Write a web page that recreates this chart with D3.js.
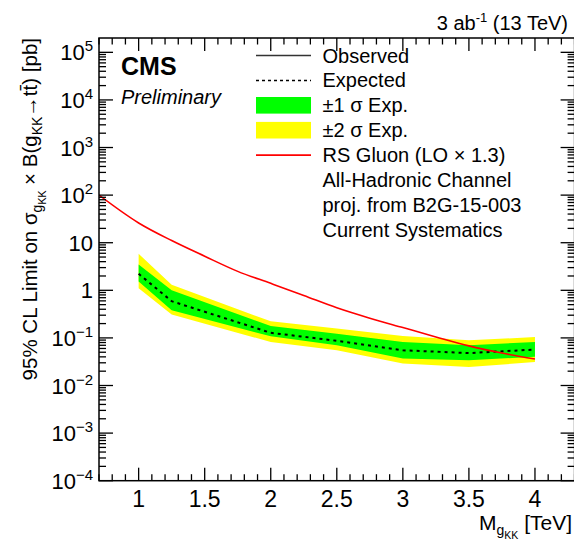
<!DOCTYPE html>
<html>
<head>
<meta charset="utf-8">
<script src="https://cdn.jsdelivr.net/npm/d3@7"></script>
<style>
  html, body { margin: 0; padding: 0; background: #fff; }
  svg { display: block; font-family: "Liberation Sans", Arial, Helvetica, sans-serif; }
</style>
</head>
<body>
<svg id="canvas" width="574" height="546"></svg>
<script>
// --- Data ---
const massPoints = [1.0, 1.25, 2.0, 2.5, 3.0, 3.5, 4.0];          // TeV
const expected   = [2.23, 0.59, 0.128, 0.087, 0.055, 0.048, 0.057]; // pb
const band1Up    = [3.49, 1.0, 0.178, 0.123, 0.082, 0.070, 0.082];
const band1Down  = [1.54, 0.38, 0.108, 0.070, 0.037, 0.034, 0.040];
const band2Up    = [5.85, 1.31, 0.223, 0.157, 0.110, 0.089, 0.104];
const band2Down  = [1.11, 0.31, 0.082, 0.055, 0.029, 0.0245, 0.031];

const gluonMass = [0.7, 1.0, 1.25, 1.5, 1.75, 2.0, 2.25, 2.5, 2.75, 3.0, 3.25, 3.5, 3.75, 4.0];
const gluonXsec = [100, 26, 11.1, 5.2, 2.5, 1.4, 0.78, 0.43, 0.26, 0.165, 0.105, 0.068, 0.048, 0.036];

const xMajorTicks = [1, 1.5, 2, 2.5, 3, 3.5, 4];
const xTickLabels = ["1", "1.5", "2", "2.5", "3", "3.5", "4"];
const yDecades = [-4, -3, -2, -1, 0, 1, 2, 3, 4, 5];

const legendEntries = [
  { type: "line", color: "#333", label: "Observed" },
  { type: "dash", color: "#000", label: "Expected" },
  { type: "box", color: "#00ff00", label: "\u00b11 \u03c3 Exp." },
  { type: "box", color: "#ffff00", label: "\u00b12 \u03c3 Exp." },
  { type: "line", color: "#ff0000", label: "RS Gluon (LO \u00d7 1.3)" },
  { type: "none", label: "All-Hadronic Channel" },
  { type: "none", label: "proj. from B2G-15-003" },
  { type: "none", label: "Current Systematics" }
];

// --- Frame and scales ---
const svg = d3.select("#canvas");
// right edge of the frame sits just past the picture, as in the reference
const frame = { left: 99, right: 574.6, top: 38, bottom: 480.7 };

const x = d3.scaleLinear().domain([0.7, 4.3]).range([frame.left, frame.right]);
const y = d3.scaleLog().domain([1e-4, 2e5]).range([frame.bottom, frame.top]);

svg.append("clipPath").attr("id", "plotClip")
  .append("rect")
  .attr("x", frame.left).attr("y", frame.top)
  .attr("width", frame.right - frame.left).attr("height", frame.bottom - frame.top);

const plot = svg.append("g").attr("clip-path", "url(#plotClip)");

// Bands
const bandArea = (up, down) => d3.area()
  .x((d, i) => x(massPoints[i]))
  .y0((d, i) => y(down[i]))
  .y1((d, i) => y(up[i]));

plot.append("path").datum(massPoints)
  .attr("d", bandArea(band2Up, band2Down))
  .attr("fill", "#ffff00");
plot.append("path").datum(massPoints)
  .attr("d", bandArea(band1Up, band1Down))
  .attr("fill", "#00ff00");

// Expected limit
plot.append("path").datum(massPoints)
  .attr("d", d3.line().x(d => x(d)).y((d, i) => y(expected[i])))
  .attr("fill", "none")
  .attr("stroke", "#000")
  .attr("stroke-width", 2)
  .attr("stroke-dasharray", "3,4");

// RS gluon theory curve
plot.append("path").datum(gluonMass)
  .attr("d", d3.line().curve(d3.curveMonotoneX).x(d => x(d)).y((d, i) => y(gluonXsec[i])))
  .attr("fill", "none")
  .attr("stroke", "#ff0000")
  .attr("stroke-width", 1.6);

// --- Axes (ROOT style, ticks inward on all four sides) ---
const xMinor = d3.range(7, 44).map(v => v / 10).filter(v => !xMajorTicks.some(m => Math.abs(m - v) < 1e-6));
const yMinor = [];
yDecades.forEach(e => { for (let k = 2; k <= 9; k++) { const v = k * Math.pow(10, e); if (v < 2e5) yMinor.push(v); } });
const yMajor = yDecades.map(e => Math.pow(10, e));

const axisColor = "#000";
const axes = svg.append("g").attr("stroke", axisColor).attr("stroke-width", 1.3);

function xTicks(yPos, dir) {
  axes.selectAll(null).data(xMajorTicks).enter().append("line")
    .attr("x1", d => x(d)).attr("x2", d => x(d))
    .attr("y1", yPos).attr("y2", yPos + dir * 13);
  axes.selectAll(null).data(xMinor).enter().append("line")
    .attr("x1", d => x(d)).attr("x2", d => x(d))
    .attr("y1", yPos).attr("y2", yPos + dir * 6.5);
}
function yTicks(xPos, dir) {
  axes.selectAll(null).data(yMajor).enter().append("line")
    .attr("y1", d => y(d)).attr("y2", d => y(d))
    .attr("x1", xPos).attr("x2", xPos + dir * 14);
  axes.selectAll(null).data(yMinor).enter().append("line")
    .attr("y1", d => y(d)).attr("y2", d => y(d))
    .attr("x1", xPos).attr("x2", xPos + dir * 7);
}
xTicks(frame.bottom, -1);
xTicks(frame.top, 1);
yTicks(frame.left, 1);
yTicks(frame.right, -1);

svg.append("rect")
  .attr("x", frame.left).attr("y", frame.top)
  .attr("width", frame.right - frame.left).attr("height", frame.bottom - frame.top)
  .attr("fill", "none").attr("stroke", axisColor).attr("stroke-width", 1.5);

// x tick labels
svg.append("g").selectAll("text").data(xMajorTicks).enter().append("text")
  .attr("x", d => x(d)).attr("y", 507)
  .attr("text-anchor", "middle")
  .attr("font-size", 23)
  .text((d, i) => xTickLabels[i]);

// y tick labels
const yLab = svg.append("g").attr("font-size", 22);
yDecades.forEach(e => {
  const t = yLab.append("text")
    .attr("x", 93).attr("y", y(Math.pow(10, e)) + 8)
    .attr("text-anchor", "end");
  if (e === 0) { t.text("1"); return; }
  t.append("tspan").text("10");
  if (e === 1) return;
  t.append("tspan").attr("dy", -9).attr("font-size", 15)
    .text(e < 0 ? "\u2212" + (-e) : String(e));
});

// Axis titles
const yTitle = svg.append("text")
  .attr("transform", "translate(37," + frame.top + ") rotate(-90)")
  .attr("text-anchor", "end")
  .attr("font-size", 20.5);
yTitle.append("tspan").text("95% CL Limit on \u03c3");
yTitle.append("tspan").attr("dy", 5).attr("font-size", 14).text("g");
yTitle.append("tspan").attr("dy", 4).attr("font-size", 10.5).text("KK");
yTitle.append("tspan").attr("dy", -9).text(" \u00d7 B(g");
yTitle.append("tspan").attr("dy", 5).attr("font-size", 14).text("KK");
yTitle.append("tspan").attr("dy", -5).text("\u2192t");
yTitle.append("tspan").text("t\u0304) [pb]");

const xTitle = svg.append("text")
  .attr("x", 572).attr("y", 530)
  .attr("text-anchor", "end")
  .attr("font-size", 21);
xTitle.append("tspan").text("M");
xTitle.append("tspan").attr("dy", 5).attr("font-size", 14).text("g");
xTitle.append("tspan").attr("dy", 4).attr("font-size", 10.5).text("KK");
xTitle.append("tspan").attr("dy", -9).text(" [TeV]");

// Luminosity label
const lumi = svg.append("text")
  .attr("x", 568).attr("y", 30)
  .attr("text-anchor", "end")
  .attr("font-size", 20);
lumi.append("tspan").text("3 ab");
lumi.append("tspan").attr("dy", -8).attr("font-size", 13).text("-1");
lumi.append("tspan").attr("dy", 8).text(" (13 TeV)");

// CMS labels
svg.append("text").attr("x", 121).attr("y", 75)
  .attr("font-size", 25).attr("font-weight", "bold").text("CMS");
svg.append("text").attr("x", 121).attr("y", 104)
  .attr("font-size", 20).attr("font-style", "italic").text("Preliminary");

// --- Legend ---
const legend = svg.append("g");
const rowY = i => 55.5 + i * 24.9;
const symX0 = 256, symX1 = 311, textX = 322.5;

legendEntries.forEach((e, i) => {
  const cy = rowY(i);
  if (e.type === "line" || e.type === "dash") {
    legend.append("line")
      .attr("x1", symX0).attr("x2", symX1)
      .attr("y1", cy).attr("y2", cy)
      .attr("stroke", e.color)
      .attr("stroke-width", e.type === "dash" ? 1.5 : 1.6)
      .attr("stroke-dasharray", e.type === "dash" ? "3,3" : null);
  } else if (e.type === "box") {
    legend.append("rect")
      .attr("x", symX0).attr("y", cy - 8.3)
      .attr("width", symX1 - symX0).attr("height", 16.6)
      .attr("fill", e.color);
  }
  legend.append("text")
    .attr("x", textX).attr("y", cy + 7)
    .attr("font-size", 20)
    .text(e.label);
});
</script>
</body>
</html>
